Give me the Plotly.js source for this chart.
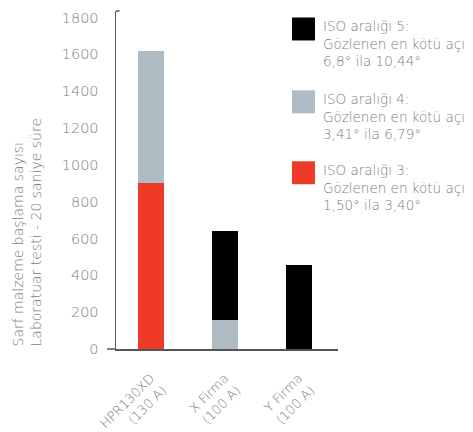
<!DOCTYPE html>
<html>
<head>
<meta charset="utf-8">
<script src="https://cdn.plot.ly/plotly-3.0.1.min.js"></script>
<style>html,body{margin:0;padding:0;background:#fff;}#chart{width:473px;height:432px;}</style>
</head>
<body>
<div id="chart"></div>
<script>
const categories = ["HPR130XD<br>(130 A)", "X Firma<br>(100 A)", "Y Firma<br>(100 A)"];
const iso3 = [900, 0, 0];
const iso4 = [720, 160, 0];
const iso5 = [0, 480, 455];
const seriesNames = ["ISO aralığı 5:<br>Gözlenen en kötü açı<br>6,8° ila 10,44°",
                     "ISO aralığı 4:<br>Gözlenen en kötü açı<br>3,41° ila 6,79°",
                     "ISO aralığı 3:<br>Gözlenen en kötü açı<br>1,50° ila 3,40°"];
const colors = ["#000000", "#b0bcc4", "#ee3a26"];
const yTicks = [0, 200, 400, 600, 800, 1000, 1200, 1400, 1600, 1800];
const yTitle = "Sarf malzeme başlama sayısı<br>Laboratuar testi - 20 saniye süre";

const FONT = "DejaVu Sans, sans-serif";
const WEIGHT = 200;
const TXT = "#7e7e7e";
const W = 473, H = 432;
const mL = 116, mR = 135, mT = 10.5, mB = 83;
const pw = W - mL - mR, ph = H - mT - mB;
const px = x => (x - mL) / pw;
const py = y => (H - mB - y) / ph;

const traces = [
  {type: "bar", x: categories, y: iso3, marker: {color: colors[2]}, name: seriesNames[2], width: 0.35},
  {type: "bar", x: categories, y: iso4, marker: {color: colors[1]}, name: seriesNames[1], width: 0.35},
  {type: "bar", x: categories, y: iso5, marker: {color: colors[0]}, name: seriesNames[0], width: 0.35}
];

const shapes = [
  {type: "line", xref: "paper", yref: "paper", x0: px(107), x1: px(116), y0: 0, y1: 0, line: {color: "#555", width: 1.5}},
  {type: "line", xref: "paper", yref: "paper", x0: 0, x1: px(119.5), y0: 1, y1: 1, line: {color: "#555", width: 1.5}}
];
const annotations = [
  {xref: "paper", yref: "paper", x: px(26), y: py(349), xanchor: "center", yanchor: "bottom",
   text: yTitle, textangle: -90, showarrow: false, align: "left", font: {family: FONT, size: 14, color: TXT, weight: WEIGHT}}
];
const legendTops = [17, 90, 161];
for (let i = 0; i < 3; i++) {
  const t = legendTops[i];
  shapes.push({type: "rect", xref: "paper", yref: "paper", x0: px(292), x1: px(315), y0: py(t), y1: py(t + 23),
    fillcolor: colors[i], line: {width: 0}});
  annotations.push({xref: "paper", yref: "paper", x: px(321), y: py(t - 1), xanchor: "left", yanchor: "top",
    text: seriesNames[i], showarrow: false, align: "left", font: {family: FONT, size: 13.5, color: TXT, weight: WEIGHT}});
}

const layout = {
  width: W, height: H,
  margin: {l: mL, r: mR, t: mT, b: mB, pad: 0},
  paper_bgcolor: "#fff", plot_bgcolor: "#fff",
  barmode: "stack",
  showlegend: false,
  font: {family: FONT, color: TXT, size: 14, weight: WEIGHT},
  xaxis: {type: "category", range: [-0.47, 2.53], showline: true, linecolor: "#555", linewidth: 1.5,
          ticks: "outside", ticklen: 15, tickcolor: "rgba(0,0,0,0)", tickangle: -45,
          tickfont: {family: FONT, size: 13, color: TXT, weight: WEIGHT}, showgrid: false, zeroline: false, fixedrange: true},
  yaxis: {range: [0, 1835], tickvals: yTicks, ticktext: yTicks.map(String), showline: true, linecolor: "#555", linewidth: 1.5,
          ticks: "outside", ticklen: 13, tickcolor: "rgba(0,0,0,0)", showgrid: false, zeroline: false,
          tickfont: {family: FONT, size: 14.5, color: TXT, weight: WEIGHT}, fixedrange: true},
  shapes: shapes,
  annotations: annotations
};
Plotly.newPlot("chart", traces, layout, {displayModeBar: false, staticPlot: true});
</script>
</body>
</html>
